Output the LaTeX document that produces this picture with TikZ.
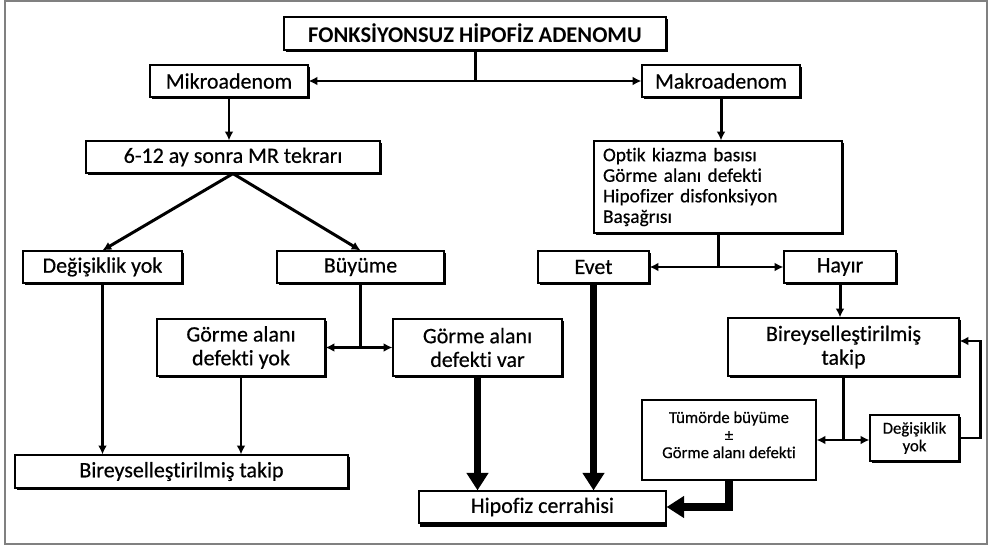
\documentclass[tikz,border=0pt]{standalone}
\usepackage{fontspec}
\setmainfont{Carlito}[Ligatures=NoCommon, FakeBold=0.5, BoldFont=Carlito Bold, BoldFeatures={FakeBold=0}]
\usetikzlibrary{arrows.meta, shadows}

\tikzset{
  kutu/.style={draw, line width=0.7pt, fill=white, inner sep=0pt, align=center, font=\fontsize{12.5}{13.5}\selectfont},
  golge/.style={drop shadow={shadow xshift=1.1pt, shadow yshift=-1.1pt, fill=black, opacity=1}},
  hat/.style={line width=1.7pt},
  ok/.style={line width=1.7pt, -{Latex[length=5pt,width=5pt]}},
  cift/.style={line width=1.7pt, {Latex[length=5pt,width=5pt]}-{Latex[length=5pt,width=5pt]}},
  kalin/.style={line width=4.5pt, -{Triangle[length=10pt,width=12pt]}},
}

\begin{document}
\begin{tikzpicture}[x=0.02cm, y=-0.02cm]
    \useasboundingbox (0,0) rectangle (989,547);
    \draw[gray, line width=1pt] (5,1) rectangle (987,544);

    \node[kutu, golge, minimum width=7.64cm, minimum height=0.66cm, font=\fontsize{12.8}{14}\selectfont\bfseries] (baslik) at (475,33.5) {FONKSİYONSUZ HİPOFİZ ADENOMU};
    \node[kutu, golge, minimum width=3.16cm, minimum height=0.64cm] (mikro) at (229,81) {Mikroadenom};
    \node[kutu, golge, minimum width=3.16cm, minimum height=0.64cm] (makro) at (721,81) {Makroadenom};
    \node[kutu, golge, minimum width=5.88cm, minimum height=0.64cm] (mr) at (233,157) {6-12 ay sonra MR tekrarı};
    \node[kutu, golge, minimum width=4.96cm, minimum height=1.84cm, text width=4.6cm, inner xsep=0.18cm, align=left, font=\fontsize{11}{11.7}\selectfont] (belirti) at (718,187) {Optik kiazma basısı\\Görme alanı defekti\\Hipofizer disfonksiyon\\Başağrısı};
    \node[kutu, golge, minimum width=3.18cm, minimum height=0.64cm] (degyok) at (102.5,267) {Değişiklik yok};
    \node[kutu, golge, minimum width=3.34cm, minimum height=0.64cm] (buyume) at (360.5,267) {Büyüme};
    \node[kutu, golge, minimum width=2.22cm, minimum height=0.64cm] (evet) at (593.5,267) {Evet};
    \node[kutu, golge, minimum width=2.24cm, minimum height=0.64cm] (hayir) at (840,267) {Hayır};
    \node[kutu, golge, minimum width=3.36cm, minimum height=1.14cm] (gyok) at (241,347.5) {Görme alanı\\defekti yok};
    \node[kutu, golge, minimum width=3.38cm, minimum height=1.14cm] (gvar) at (477.5,347.5) {Görme alanı\\defekti var};
    \node[kutu, golge, minimum width=4.62cm, minimum height=1.16cm] (takipsag) at (843.5,347) {Bireyselleştirilmiş\\takip};
    \node[kutu, golge, minimum width=6.66cm, minimum height=0.66cm] (takipsol) at (181.5,471.5) {Bireyselleştirilmiş takip};
    \node[kutu, minimum width=3.48cm, minimum height=1.60cm, font=\fontsize{9.5}{10}\selectfont] (tumor) at (729,440) {Tümörde büyüme\\±\\Görme alanı defekti\\[-4pt]\mbox{}};
    \node[kutu, golge, minimum width=1.78cm, minimum height=0.92cm, font=\fontsize{9.5}{10}\selectfont] (degyok2) at (914.5,438) {Değişiklik\\yok};
    \node[kutu, drop shadow={shadow xshift=0.6pt, shadow yshift=-2.2pt, fill=black, opacity=1}, minimum width=4.94cm, minimum height=0.64cm] (cerrahi) at (542.5,507) {Hipofiz cerrahisi};

    \draw[hat] (baslik.south) -- (baslik.south |- mikro.east);
    \draw[cift] (mikro.east) -- (makro.west);
    \draw[ok] (mikro.south) -- (mikro.south |- mr.north);
    \draw[ok] (makro.south) -- (makro.south |- belirti.north);
    \draw[ok] (mr.south) -- (degyok.north);
    \draw[ok] (mr.south) -- (buyume.north);
    \draw[hat] (belirti.south) -- (belirti.south |- evet.east);
    \draw[cift] (evet.east) -- (hayir.west);
    \draw[ok] (hayir.south) -- (hayir.south |- takipsag.north);
    \draw[hat] (buyume.south) -- (buyume.south |- gyok.east);
    \draw[cift] (gyok.east) -- (gvar.west);
    \draw[ok] (degyok.south) -- (degyok.south |- takipsol.north);
    \draw[ok] (gyok.south) -- (gyok.south |- takipsol.north);
    \draw[kalin] (gvar.south) -- (gvar.south |- cerrahi.north);
    \draw[kalin] (evet.south) -- (evet.south |- cerrahi.north);
    \draw[hat] (takipsag.south) -- (takipsag.south |- tumor.east);
    \draw[cift] (tumor.east) -- (degyok2.west |- tumor.east);
    \draw[ok] (degyok2.east) -- ++(21,0) |- ([yshift=0.12cm]takipsag.east);
    \draw[kalin] (tumor.south) |- (cerrahi.east);
\end{tikzpicture}
\end{document}
